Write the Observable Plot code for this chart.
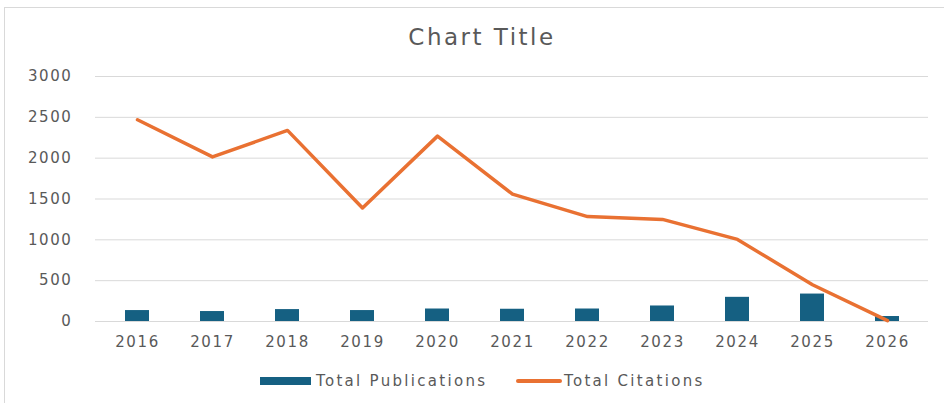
<!DOCTYPE html>
<html>
<head>
<meta charset="utf-8">
<script src="https://cdn.jsdelivr.net/npm/d3@7"></script>
<script src="https://cdn.jsdelivr.net/npm/@observablehq/plot@0.6"></script>
<style>
  html, body { margin: 0; padding: 0; background: #fff; }
  body { width: 944px; height: 403px; position: relative; overflow: hidden; font-family: "DejaVu Sans", sans-serif; color: #595959; }
  #frame { position: absolute; left: 4px; top: 7px; width: 1000px; height: 500px; border-left: 1px solid #d9d9d9; border-top: 1px solid #d9d9d9; }
  #title { position: absolute; left: 0; width: 964px; top: 22px; text-align: center; font-size: 23px; letter-spacing: 2.5px; line-height: 30px; }
  #chart { position: absolute; left: 0; top: 60px; }
  #legend { position: absolute; top: 370px; left: 0; width: 944px; height: 22px; font-size: 15px; letter-spacing: 2.3px; }
  .item { position: absolute; top: 0; line-height: 22px; white-space: nowrap; }
  .sw { position: absolute; }
</style>
</head>
<body>
<div id="frame"></div>
<div id="title">Chart Title</div>
<div id="chart"></div>
<div id="legend">
  <div class="sw" style="left:260px; top:7px; width:51px; height:8px; background:#156082;"></div>
  <div class="item" style="left:316px;">Total Publications</div>
  <div class="sw" style="left:516px; top:9px; width:46px; height:4px; border-radius:2px; background:#E97132;"></div>
  <div class="item" style="left:564px;">Total Citations</div>
</div>
<script>
const years = ["2016","2017","2018","2019","2020","2021","2022","2023","2024","2025","2026"];
const publications = [134, 122, 146, 134, 153, 150, 153, 190, 296, 336, 61];
const citations = [2470, 2015, 2340, 1390, 2270, 1560, 1285, 1250, 1005, 450, 10];
const yTicks = [0, 500, 1000, 1500, 2000, 2500, 3000];

const data = years.map((y, i) => ({year: y, pubs: publications[i], cites: citations[i]}));

const chart = Plot.plot({
  width: 944,
  height: 300,
  marginLeft: 95,
  marginRight: 16,
  marginTop: 16,
  marginBottom: 39,
  style: {fontFamily: "DejaVu Sans, sans-serif", fontSize: "15px", color: "#595959", background: "transparent", letterSpacing: "1.6px"},
  x: {domain: years, paddingInner: 0.68, paddingOuter: 0.34, label: null},
  y: {domain: [0, 3000], ticks: yTicks, label: null, tickFormat: d => String(d)},
  marks: [
    Plot.gridY(yTicks, {stroke: "#d9d9d9", strokeOpacity: 1, strokeWidth: 1}),
    Plot.axisY(yTicks, {tickSize: 0, tickPadding: 0, dx: -23, label: null, fill: "#595959", fontSize: 15, tickFormat: d => String(d)}),
    Plot.axisX({tickSize: 0, tickPadding: 15, label: null, fill: "#595959", fontSize: 15}),
    Plot.barY(data, {x: "year", y: "pubs", fill: "#156082"}),
    Plot.line(data, {x: "year", y: "cites", stroke: "#E97132", strokeWidth: 3.5, strokeLinejoin: "round", strokeLinecap: "round"})
  ]
});
document.getElementById("chart").appendChild(chart);
</script>
</body>
</html>
